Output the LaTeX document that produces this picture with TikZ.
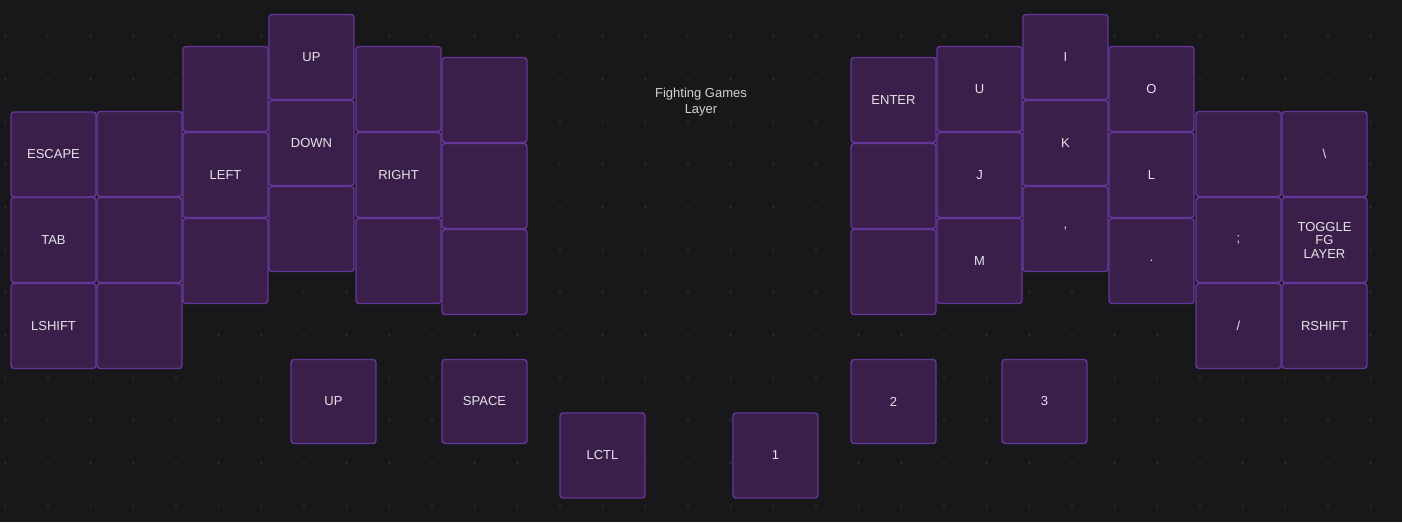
\documentclass[tikz,border=0pt]{standalone}
\usepackage{fontspec}
\setmainfont{Liberation Sans}
\definecolor{bg}{HTML}{18181A}
\definecolor{dotminor}{HTML}{222225}
\definecolor{dotmajor}{HTML}{2E2E31}
\definecolor{keyfill}{HTML}{3B1F4B}
\definecolor{keyborder}{HTML}{633799}
\definecolor{keytext}{HTML}{E4E4E6}
\tikzset{
  kbkey/.style={rectangle, rounded corners=3, minimum width=85, minimum height=85,
    fill=keyfill, draw=keyborder, line width=1.4, text=keytext,
    font=\fontsize{13}{13.5}\selectfont, inner sep=0},
  thumbkey/.style={kbkey, minimum height=84},
  multiline/.style={align=center},
  titletext/.style={text=keytext!92!black, align=center, font=\fontsize{13}{16}\selectfont}
}
\begin{document}
\begin{tikzpicture}[x=1pt,y=-1pt]
\fill[bg] (0,0) rectangle (1402,522);
\useasboundingbox (0,0) rectangle (1402,522);
% dot grid
\foreach \i in {0,...,131}{
  \foreach \j in {0,...,49}{
    \fill[dotminor] ({5.3+\i*10.667},{4.6+\j*10.667}) circle (0.9);
  }
}
\foreach \i in {0,...,32}{
  \foreach \j in {0,...,12}{
    \fill[dotmajor] ({5.3+\i*42.667},{-6.1+\j*42.667}) circle (1.2);
  }
}
% left half
\node[kbkey] (escape) at (53.5,154.5) {ESCAPE};
\node[kbkey] (tab) at (53.5,240) {TAB};
\node[kbkey] (lshift) at (53.5,326) {LSHIFT};
\node[kbkey] (l1a) at (139.5,154) {};
\node[kbkey] (l1b) at (139.5,240) {};
\node[kbkey] (l1c) at (139.5,326) {};
\node[kbkey] (l2a) at (225.5,89) {};
\node[kbkey] (left) at (225.5,175) {LEFT};
\node[kbkey] (l2c) at (225.5,261) {};
\node[kbkey] (up) at (311.5,57) {UP};
\node[kbkey] (down) at (311.5,143) {DOWN};
\node[kbkey] (l3c) at (311.5,229) {};
\node[kbkey] (l4a) at (398.5,89) {};
\node[kbkey] (right) at (398.5,175) {RIGHT};
\node[kbkey] (l4c) at (398.5,261) {};
\node[kbkey] (l5a) at (484.5,100) {};
\node[kbkey] (l5b) at (484.5,186) {};
\node[kbkey] (l5c) at (484.5,272) {};
% left thumbs
\node[thumbkey] (tup) at (333.5,401.5) {UP};
\node[thumbkey] (space) at (484.5,401.5) {SPACE};
\node[kbkey] (lctl) at (602.5,455.5) {LCTL};
\node[kbkey] (one) at (775.5,455.5) {1};
% title
\node[titletext] (title) at (701,102.5) {Fighting Games\\Layer};
% right half
\node[kbkey] (enter) at (893.5,100) {ENTER};
\node[kbkey] (r6b) at (893.5,186) {};
\node[kbkey] (r6c) at (893.5,272) {};
\node[kbkey] (u) at (979.5,89) {U};
\node[kbkey] (j) at (979.5,175) {J};
\node[kbkey] (m) at (979.5,261) {M};
\node[kbkey] (i) at (1065.5,57) {I};
\node[kbkey] (k) at (1065.5,143) {K};
\node[kbkey] (comma) at (1065.5,229) {,};
\node[kbkey] (o) at (1151.5,89) {O};
\node[kbkey] (l) at (1151.5,175) {L};
\node[kbkey] (dot) at (1151.5,261) {.};
\node[kbkey] (r10a) at (1238.5,154) {};
\node[kbkey] (semi) at (1238.5,240) {;};
\node[kbkey] (slash) at (1238.5,326) {/};
\node[kbkey] (bslash) at (1324.5,154) {\textbackslash};
\node[kbkey, multiline] (toggle) at (1324.5,240) {TOGGLE\\FG\\LAYER};
\node[kbkey] (rshift) at (1324.5,326) {RSHIFT};
% right thumbs
\node[thumbkey] (two) at (893.5,401.5) {2};
\node[thumbkey] (three) at (1044.5,401.5) {3};
\end{tikzpicture}
\end{document}
